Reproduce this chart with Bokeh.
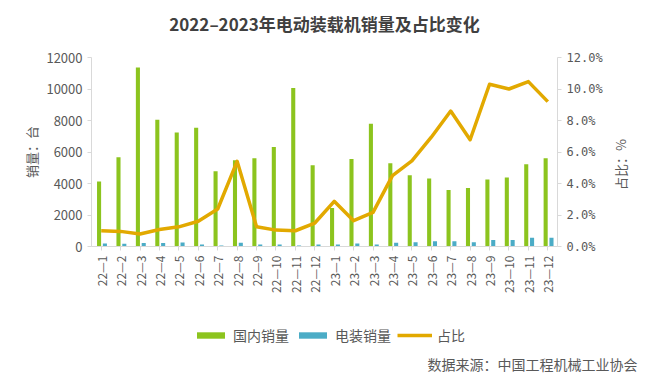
import math
from bokeh.plotting import figure
from bokeh.layouts import column, row
from bokeh.models import (ColumnDataSource, FactorRange, Range1d, LinearAxis,
                          NumeralTickFormatter, Label, Legend, LegendItem)
from bokeh.transform import dodge
from bokeh.embed import file_html
from bokeh.resources import INLINE

months = ["22—1", "22—2", "22—3", "22—4", "22—5", "22—6", "22—7", "22—8",
          "22—9", "22—10", "22—11", "22—12", "23—1", "23—2", "23—3", "23—4",
          "23—5", "23—6", "23—7", "23—8", "23—9", "23—10", "23—11", "23—12"]
domestic = [4120, 5670, 11370, 8050, 7240, 7540, 4780, 5480, 5610, 6310, 10070, 5160,
            2440, 5560, 7800, 5290, 4520, 4310, 3590, 3720, 4250, 4380, 5230, 5610]
electric = [190, 170, 230, 230, 250, 120, 60, 240, 130, 130, 60, 130,
            130, 190, 130, 240, 270, 340, 340, 270, 420, 420, 550, 550]
share = [0.0100, 0.0096, 0.0079, 0.0108, 0.0125, 0.0160, 0.0238, 0.0541,
         0.0125, 0.0104, 0.0100, 0.0149, 0.0287, 0.0164, 0.0217, 0.0450,
         0.0543, 0.0694, 0.0860, 0.0678, 0.1030, 0.1000, 0.1047, 0.0920]
y_ticks = [0, 2000, 4000, 6000, 8000, 10000, 12000]
pct_ticks = [0, 0.02, 0.04, 0.06, 0.08, 0.10, 0.12]
series_names = ["国内销量", "电装销量", "占比"]
title_text = "2022–2023年电动装载机销量及占比变化"
source_text = "数据来源：中国工程机械工业协会"
right_axis_title = "占比：%"

GREEN = "#8CC41E"
TEAL = "#4BACC6"
GOLD = "#E2A900"
GREY = "#595959"
AXIS = "#D9D9D9"
CJK = "Noto Sans CJK SC"


def strip(width, height):
    f = figure(width=width, height=height, output_backend="svg", toolbar_location=None,
               x_range=Range1d(0, 1), y_range=Range1d(0, 1),
               x_axis_type=None, y_axis_type=None, min_border=0)
    f.frame_align = False
    f.outline_line_color = None
    f.xgrid.visible = False
    f.ygrid.visible = False
    return f


# ---- title strip ----
t = strip(650, 40)
t.add_layout(Label(x=324, y=17, x_units="screen", y_units="screen", text=title_text,
                   text_align="center", text_baseline="middle", text_font=CJK,
                   text_font_size="17px", text_font_style="bold", text_color="#404040"))

# ---- main chart ----
src = ColumnDataSource(dict(month=months, dom=domestic, ele=electric, pct=share))

p = figure(width=612, height=270, output_backend="svg", toolbar_location=None,
           x_range=FactorRange(*months, range_padding=0), y_range=Range1d(0, 12000),
           min_border_left=91, min_border_right=55, min_border_top=17, min_border_bottom=64)
p.extra_y_ranges = {"pct": Range1d(0, 0.12)}
p.outline_line_color = None
p.xgrid.visible = False
p.ygrid.visible = False

p.vbar(x=dodge("month", -0.11, range=p.x_range), top="dom", width=0.21,
       source=src, fill_color=GREEN, line_color=None)
p.vbar(x=dodge("month", 0.19, range=p.x_range), top="ele", width=0.21,
       source=src, fill_color=TEAL, line_color=None)
p.line(x="month", y="pct", y_range_name="pct", source=src,
       line_color=GOLD, line_width=3.5, line_join="round")

ya = p.yaxis[0]
ya.ticker = y_ticks
ya.axis_label = "销量：台"
ya.axis_label_standoff = 2
ya.axis_label_text_font = CJK
ya.axis_label_text_font_style = "normal"
ya.axis_label_text_font_size = "13px"
ya.axis_label_text_color = GREY
ya.major_label_text_font = CJK
ya.major_label_text_font_size = "13px"
ya.major_label_text_color = GREY
ya.axis_line_color = AXIS
ya.major_tick_line_color = AXIS
ya.minor_tick_line_color = None
ya.major_tick_in = 0
ya.major_tick_out = 4

ra = LinearAxis(y_range_name="pct", ticker=pct_ticks,
                formatter=NumeralTickFormatter(format="0.0%"))
ra.major_label_text_font = "DejaVu Sans Mono"
ra.major_label_text_font_size = "12px"
ra.major_label_text_color = GREY
ra.axis_line_color = AXIS
ra.major_tick_line_color = AXIS
ra.minor_tick_line_color = AXIS
ra.major_tick_in = 0
ra.major_tick_out = 4
ra.minor_tick_in = 0
ra.minor_tick_out = 2
p.add_layout(ra, "right")

xa = p.xaxis[0]
xa.major_label_orientation = math.pi / 2
xa.major_label_text_font = CJK
xa.major_label_text_font_size = "12px"
xa.major_label_text_color = GREY
xa.axis_line_color = AXIS
xa.major_tick_line_color = AXIS
xa.major_tick_in = 0
xa.major_tick_out = 4

# ---- right axis title strip ----
r = strip(38, 270)
r.add_layout(Label(x=8, y=146, x_units="screen", y_units="screen", text=right_axis_title,
                   angle=math.pi / 2, text_align="center", text_baseline="middle",
                   text_font=CJK, text_font_size="13px", text_color=GREY))

# ---- legend + source strip ----
q = strip(650, 74)
dummy_bar = ColumnDataSource(dict(x=[-1.0], y=[-1.0]))
dummy_line = ColumnDataSource(dict(x=[-2.0, -1.0], y=[-1.0, -1.0]))
g1 = q.vbar(x="x", top="y", width=0.1, source=dummy_bar, fill_color=GREEN, line_color=None)
g2 = q.vbar(x="x", top="y", width=0.1, source=dummy_bar, fill_color=TEAL, line_color=None)
g3 = q.line(x="x", y="y", source=dummy_line, line_color=GOLD, line_width=3.5)

legend = Legend(items=[LegendItem(label=series_names[0], renderers=[g1]),
                       LegendItem(label=series_names[1], renderers=[g2]),
                       LegendItem(label=series_names[2], renderers=[g3])],
                orientation="horizontal", location=(193, 39),
                glyph_width=35, glyph_height=8, label_standoff=5, spacing=6,
                label_height=20, padding=0, margin=0, border_line_color=None,
                background_fill_alpha=0,
                label_text_font=CJK, label_text_font_size="14px",
                label_text_color=GREY)
q.add_layout(legend, "center")

q.add_layout(Label(x=637, y=21, x_units="screen", y_units="screen",
                   text=source_text, text_align="right",
                   text_baseline="middle", text_font=CJK, text_font_size="14px",
                   text_color=GREY))

layout = column(t, row(p, r, spacing=0), q, spacing=0)
open("out.html", "w").write(file_html(layout, INLINE))
